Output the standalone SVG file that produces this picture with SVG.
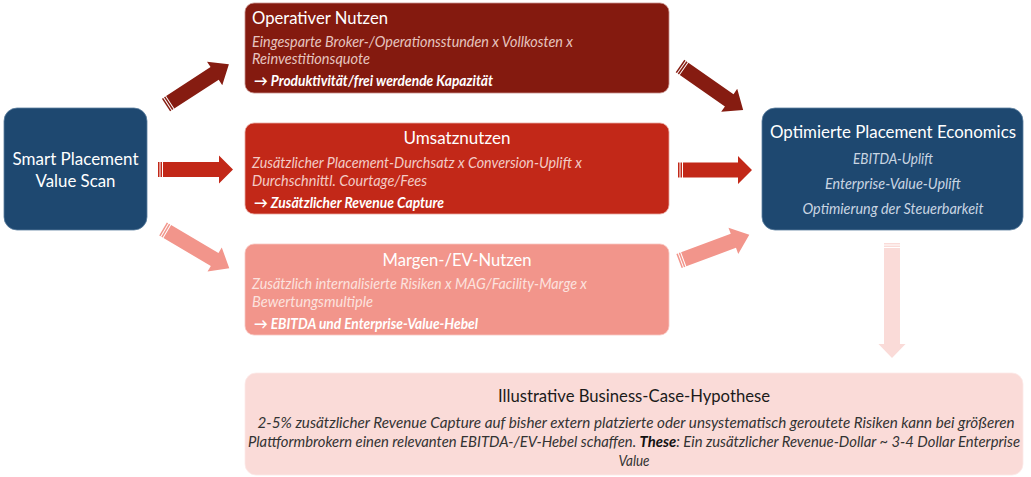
<svg xmlns="http://www.w3.org/2000/svg" width="1031" height="477" viewBox="0 0 1031 477">
<style>
.t{font-family:Lato,"Liberation Sans",sans-serif;fill:#fff}
.ttl{font-size:18px}
.it{font-size:14.5px;font-style:italic}
.bi{font-size:14.5px;font-style:italic;font-weight:bold;fill:#fff}
.bt{font-family:Lato,"Liberation Sans",sans-serif;font-size:14.5px;font-style:italic;fill:#333}
.dk{fill:#861C11}
.md{fill:#C22818}
.lt{fill:#F2958B}
.vl{fill:#FADBD8}
</style>
<rect width="1031" height="477" fill="#fff"/>
<g id="connectors">
  <g class="dk" transform="translate(166,105) rotate(-33)">
    <rect x="0" y="-7.5" width="1.5" height="15"/><rect x="2.5" y="-7.5" width="1.5" height="15"/>
    <polygon points="5,-7.5 58,-7.5 58,-14 75,0 58,14 58,7.5 5,7.5"/>
  </g>
  <g class="md" transform="translate(158,169.5)">
    <rect x="0" y="-7.5" width="1.5" height="15"/><rect x="2.5" y="-7.5" width="1.5" height="15"/>
    <polygon points="5,-7.5 61,-7.5 61,-14 75,0 61,14 61,7.5 5,7.5"/>
  </g>
  <g class="lt" transform="translate(163,229) rotate(30.6)">
    <rect x="0" y="-7.5" width="1.5" height="15"/><rect x="2.5" y="-7.5" width="1.5" height="15"/>
    <polygon points="5,-7.5 60,-7.5 60,-14 77,0 60,14 60,7.5 5,7.5"/>
  </g>
  <g class="dk" transform="translate(680,66) rotate(34.9)">
    <rect x="0" y="-7.5" width="1.5" height="15"/><rect x="2.5" y="-7.5" width="1.5" height="15"/>
    <polygon points="5,-7.5 60,-7.5 60,-14 77,0 60,14 60,7.5 5,7.5"/>
  </g>
  <g class="md" transform="translate(678,170)">
    <rect x="0" y="-7.5" width="1.5" height="15"/><rect x="2.5" y="-7.5" width="1.5" height="15"/>
    <polygon points="5,-7.5 60,-7.5 60,-14 74,0 60,14 60,7.5 5,7.5"/>
  </g>
  <g class="lt" transform="translate(679,261) rotate(-20.4)">
    <rect x="0" y="-7.5" width="1.5" height="15"/><rect x="2.5" y="-7.5" width="1.5" height="15"/>
    <polygon points="5,-7.5 58,-7.5 58,-14 75,0 58,14 58,7.5 5,7.5"/>
  </g>
  <g class="vl" transform="translate(892,243) rotate(90)">
    <rect x="0" y="-8" width="1.5" height="16"/><rect x="2.5" y="-8" width="1.5" height="16"/>
    <polygon points="5,-8 101,-8 101,-13.5 115,0 101,13.5 101,8 5,8"/>
  </g>
</g>
<g id="smart">
  <rect x="4" y="108" width="143" height="122" rx="13" fill="#1E4870" stroke="#5C7FA0" stroke-width="0.8"/>
  <text class="t ttl" x="75.5" y="165" text-anchor="middle" textLength="126" lengthAdjust="spacingAndGlyphs">Smart Placement</text>
  <text class="t ttl" x="75.5" y="187" text-anchor="middle" textLength="80" lengthAdjust="spacingAndGlyphs">Value Scan</text>
</g>
<g id="operativ">
  <rect x="245" y="3" width="424" height="90" rx="9" fill="#841A0F" stroke="#C8908A" stroke-width="0.8"/>
  <text class="t ttl" x="252" y="24" textLength="136" lengthAdjust="spacingAndGlyphs">Operativer Nutzen</text>
  <text class="t it" x="252" y="47" style="fill:#E6C4BF" textLength="321" lengthAdjust="spacingAndGlyphs">Eingesparte Broker-/Operationsstunden x Vollkosten x</text>
  <text class="t it" x="252" y="64" style="fill:#E6C4BF" textLength="118" lengthAdjust="spacingAndGlyphs">Reinvestitionsquote</text>
  <text class="t bi" x="254" y="86" textLength="239" lengthAdjust="spacingAndGlyphs">→ Produktivität/frei werdende Kapazität</text>
</g>
<g id="umsatz">
  <rect x="245" y="123" width="424" height="91" rx="9" fill="#C22818" stroke="#E8A79F" stroke-width="0.8"/>
  <text class="t ttl" x="457" y="144" text-anchor="middle" textLength="107" lengthAdjust="spacingAndGlyphs">Umsatznutzen</text>
  <text class="t it" x="252" y="168" style="fill:#F3CBC5" textLength="330" lengthAdjust="spacingAndGlyphs">Zusätzlicher Placement-Durchsatz x Conversion-Uplift x</text>
  <text class="t it" x="252" y="186" style="fill:#F3CBC5" textLength="175" lengthAdjust="spacingAndGlyphs">Durchschnittl. Courtage/Fees</text>
  <text class="t bi" x="254" y="208" textLength="190" lengthAdjust="spacingAndGlyphs">→ Zusätzlicher Revenue Capture</text>
</g>
<g id="margen">
  <rect x="245" y="244" width="424" height="91" rx="9" fill="#F2958B" stroke="#F8C7C1" stroke-width="0.8"/>
  <text class="t ttl" x="457" y="266" text-anchor="middle" textLength="149" lengthAdjust="spacingAndGlyphs">Margen-/EV-Nutzen</text>
  <text class="t it" x="252" y="289" style="fill:#FCE2DE" textLength="335" lengthAdjust="spacingAndGlyphs">Zusätzlich internalisierte Risiken x MAG/Facility-Marge x</text>
  <text class="t it" x="252" y="307" style="fill:#FCE2DE" textLength="121" lengthAdjust="spacingAndGlyphs">Bewertungsmultiple</text>
  <text class="t bi" x="254" y="329" textLength="224" lengthAdjust="spacingAndGlyphs">→ EBITDA und Enterprise-Value-Hebel</text>
</g>
<g id="optimiert">
  <rect x="762" y="108" width="261" height="122" rx="13" fill="#1E4870" stroke="#5C7FA0" stroke-width="0.8"/>
  <text class="t ttl" x="893" y="138" text-anchor="middle" textLength="246" lengthAdjust="spacingAndGlyphs">Optimierte Placement Economics</text>
  <text class="t it" x="893" y="164" text-anchor="middle" style="fill:#C9D5E2" textLength="80" lengthAdjust="spacingAndGlyphs">EBITDA-Uplift</text>
  <text class="t it" x="893" y="189" text-anchor="middle" style="fill:#C9D5E2" textLength="136" lengthAdjust="spacingAndGlyphs">Enterprise-Value-Uplift</text>
  <text class="t it" x="893" y="214" text-anchor="middle" style="fill:#C9D5E2" textLength="181" lengthAdjust="spacingAndGlyphs">Optimierung der Steuerbarkeit</text>
</g>
<g id="hypothese">
  <rect x="245" y="373" width="778" height="102" rx="11" fill="#FADBD8" stroke="#FCEAE8" stroke-width="0.8"/>
  <text x="634" y="402" text-anchor="middle" font-family="Lato,'Liberation Sans',sans-serif" font-size="18" fill="#1a1a1a" textLength="272" lengthAdjust="spacingAndGlyphs">Illustrative Business-Case-Hypothese</text>
  <text class="bt" x="636" y="428" text-anchor="middle" textLength="757" lengthAdjust="spacingAndGlyphs">2-5% zusätzlicher Revenue Capture auf bisher extern platzierte oder unsystematisch geroutete Risiken kann bei größeren</text>
  <text class="bt" x="634" y="447" text-anchor="middle" textLength="772" lengthAdjust="spacingAndGlyphs">Plattformbrokern einen relevanten EBITDA-/EV-Hebel schaffen. <tspan font-weight="bold" fill="#111">These</tspan>: Ein zusätzlicher Revenue-Dollar ~ 3-4 Dollar Enterprise</text>
  <text class="bt" x="634" y="466" text-anchor="middle" textLength="31" lengthAdjust="spacingAndGlyphs">Value</text>
</g>
</svg>
